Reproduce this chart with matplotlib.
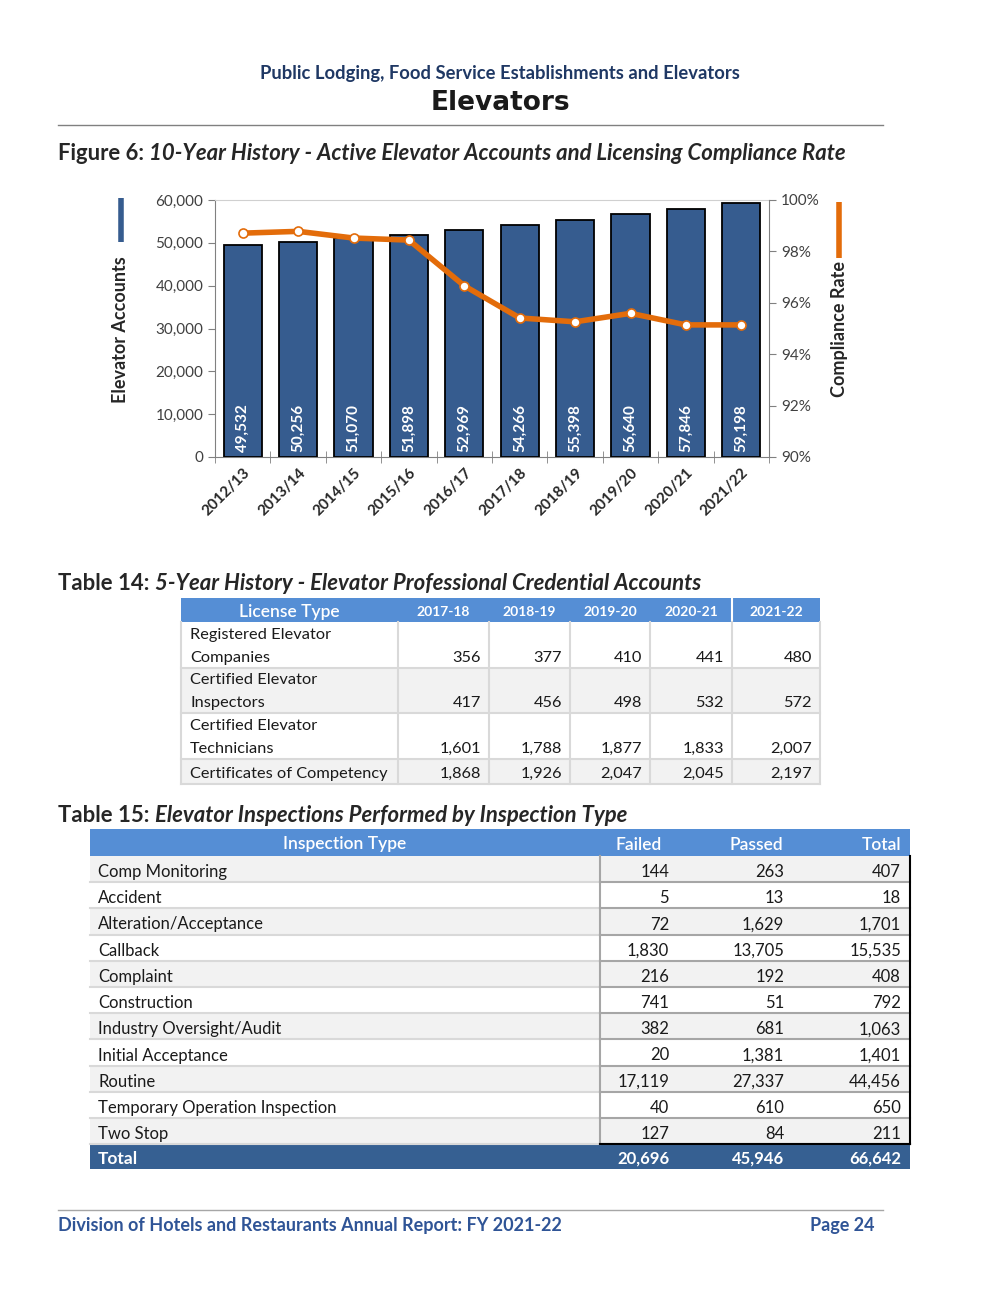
import numpy as np
import matplotlib
matplotlib.use('Agg')
import matplotlib.pyplot as plt
from matplotlib.patches import Rectangle
from matplotlib.ticker import FuncFormatter, FixedLocator

# ---- data ----
years = ['2012/13', '2013/14', '2014/15', '2015/16', '2016/17',
         '2017/18', '2018/19', '2019/20', '2020/21', '2021/22']
accounts = [49532, 50256, 51070, 51898, 52969, 54266, 55398, 56640, 57846, 59198]
compliance = [98.71, 98.78, 98.52, 98.44, 96.66, 95.41, 95.26, 95.59, 95.14, 95.14]

t14_years = ['2017-18', '2018-19', '2019-20', '2020-21', '2021-22']
t14_types = ['Registered Elevator\nCompanies', 'Certified Elevator\nInspectors',
             'Certified Elevator\nTechnicians', 'Certificates of Competency']
t14_values = [[356, 377, 410, 441, 480],
              [417, 456, 498, 532, 572],
              [1601, 1788, 1877, 1833, 2007],
              [1868, 1926, 2047, 2045, 2197]]

t15_types = ['Comp Monitoring', 'Accident', 'Alteration/Acceptance', 'Callback',
             'Complaint', 'Construction', 'Industry Oversight/Audit',
             'Initial Acceptance', 'Routine', 'Temporary Operation Inspection', 'Two Stop']
t15_failed = [144, 5, 72, 1830, 216, 741, 382, 20, 17119, 40, 127]
t15_passed = [263, 13, 1629, 13705, 192, 51, 681, 1381, 27337, 610, 84]
t15_total = [407, 18, 1701, 15535, 408, 792, 1063, 1401, 44456, 650, 211]

# ---- colours / fonts ----
NAVY = '#1F3864'
BAR = '#365C8F'
ORANGE = '#E36C0A'
HEAD = '#558ED5'
TOTAL = '#366092'
GRAYROW = '#F2F2F2'
LINE = '#D9D9D9'
FONT = ['Lato', 'DejaVu Sans']
plt.rcParams['font.family'] = FONT

W, H = 1000, 1294
fig = plt.figure(figsize=(W / 100, H / 100), dpi=100)
pg = fig.add_axes([0, 0, 1, 1])
pg.set_xlim(0, W)
pg.set_ylim(H, 0)
pg.axis('off')
renderer = fig.canvas.get_renderer()


def caption(x, y, a, b, size=15.9):
    # bold lead-in followed by bold italic title
    t = pg.text(x, y, a, fontsize=size, fontweight='bold', color='#262626', va='center')
    bb = t.get_window_extent(renderer)
    pg.text(x + bb.width, y, b, fontsize=size, fontweight='bold', style='italic',
            color='#262626', va='center')


# ---- page header ----
pg.text(500, 73, 'Public Lodging, Food Service Establishments and Elevators',
        fontsize=13.2, fontweight='bold', color=NAVY, ha='center', va='center')
pg.text(500, 103, 'Elevators', fontsize=19, fontweight='bold', color='#1a1a1a',
        ha='center', va='center', family=['DejaVu Sans'])
pg.plot([58, 883], [125, 125], color='#808080', lw=1)
caption(58, 153, 'Figure 6: ', '10-Year History - Active Elevator Accounts and Licensing Compliance Rate')

# ---- chart ----
ax = fig.add_axes([215 / W, 1 - 457 / H, 554 / W, 257 / H])
x = np.arange(len(years))
ax.bar(x, accounts, width=0.69, color=BAR, edgecolor='black', linewidth=1.3, zorder=3)
for xi, v in zip(x, accounts):
    ax.text(xi, 1100, f'{v:,}', rotation=90, ha='center', va='bottom', color='white',
            fontsize=11, fontweight='bold', zorder=4)
ax.set_xlim(-0.5, len(years) - 0.5)
ax.set_ylim(0, 60000)
ax.set_yticks(np.arange(0, 60001, 10000))
ax.yaxis.set_major_formatter(FuncFormatter(lambda v, p: f'{int(v):,}'))
ax.set_xticks(x)
ax.set_xticklabels(years, rotation=45, ha='right', rotation_mode='anchor',
                   fontsize=11, fontweight='bold', color='#262626')
ax.xaxis.set_minor_locator(FixedLocator(np.arange(-0.5, len(years), 1.0)))
ax.tick_params(axis='x', which='major', length=0, pad=6)
ax.tick_params(axis='x', which='minor', length=8, direction='inout', color='#808080')
ax.tick_params(axis='y', length=5, color='#808080', labelsize=11, labelcolor='#404040')
for s in ['left', 'bottom']:
    ax.spines[s].set_color('#808080')
ax.spines['right'].set_visible(False)
ax.spines['top'].set_color('#D0D0D0')

ax2 = ax.twinx()
ax2.plot(x, compliance, color=ORANGE, lw=4, marker='o', markersize=6.5,
         markerfacecolor='white', markeredgecolor=ORANGE, markeredgewidth=1.2, zorder=5)
ax2.set_ylim(90, 100)
ax2.set_yticks(np.arange(90, 100.1, 2))
ax2.yaxis.set_major_formatter(FuncFormatter(lambda v, p: f'{v:.0f}%'))
ax2.tick_params(axis='y', length=5, color='#808080', labelsize=11, labelcolor='#404040')
ax2.spines['right'].set_color('#808080')
for s in ['left', 'top', 'bottom']:
    ax2.spines[s].set_visible(False)

# axis titles with legend keys
pg.plot([121, 121], [198, 242], color=BAR, lw=4, solid_capstyle='butt')
pg.text(120, 330, 'Elevator Accounts', rotation=90, ha='center', va='center',
        fontsize=13, fontweight='bold', color='#262626')
pg.plot([839, 839], [202, 258], color=ORANGE, lw=4, solid_capstyle='butt')
pg.text(839, 329, 'Compliance Rate', rotation=90, ha='center', va='center',
        fontsize=13, fontweight='bold', color='#262626')

# ---- table 14 ----
caption(58, 584, 'Table 14: ', '5-Year History - Elevator Professional Credential Accounts')
cols14 = [181, 398, 489, 570, 650, 732, 820]
rows14 = [598, 622, 668, 713, 759, 784]
pg.add_patch(Rectangle((cols14[0], rows14[0]), cols14[-1] - cols14[0], rows14[1] - rows14[0],
                       facecolor=HEAD, edgecolor='none'))
pg.text((cols14[0] + cols14[1]) / 2, (rows14[0] + rows14[1]) / 2 + 2, 'License Type',
        ha='center', va='center', color='white', fontsize=12.5, fontweight='semibold')
for j, yr in enumerate(t14_years):
    pg.text((cols14[j + 1] + cols14[j + 2]) / 2, (rows14[0] + rows14[1]) / 2 + 2, yr,
            ha='center', va='center', color='white', fontsize=10, fontweight='bold')
pg.plot([cols14[5], cols14[5]], [rows14[0], rows14[1]], color='white', lw=1.5)
for i, (name, vals) in enumerate(zip(t14_types, t14_values)):
    y0, y1 = rows14[i + 1], rows14[i + 2]
    pg.add_patch(Rectangle((cols14[0], y0), cols14[-1] - cols14[0], y1 - y0,
                           facecolor=GRAYROW if i % 2 else 'white', edgecolor='none'))
    ytxt = y1 - 10
    lines = name.split('\n')
    for k, ln in enumerate(lines):
        pg.text(cols14[0] + 9, ytxt - (len(lines) - 1 - k) * 22.5, ln, ha='left',
                va='center', fontsize=11.8, color='#1a1a1a')
    for j, v in enumerate(vals):
        pg.text(cols14[j + 2] - 8, ytxt, f'{v:,}', ha='right', va='center',
                fontsize=11.8, color='#1a1a1a')
    pg.plot([cols14[0], cols14[-1]], [y1, y1], color=LINE, lw=1.5)
for cx in cols14:
    pg.plot([cx, cx], [rows14[1], rows14[-1]], color=LINE, lw=1.5)

# ---- table 15 ----
caption(58, 816, 'Table 15: ', 'Elevator Inspections Performed by Inspection Type')
left15, split15, right15 = 90, 600, 910
num_right = [669, 784, 901]
top15, head_h, row_h = 829, 27, 26.2
pg.add_patch(Rectangle((left15, top15), right15 - left15, head_h, facecolor=HEAD, edgecolor='none'))
yh = top15 + head_h / 2 + 2
pg.text((left15 + split15) / 2, yh, 'Inspection Type', ha='center', va='center',
        color='white', fontsize=12.5, fontweight='semibold')
for xr, lab in zip([662, 783, 901], ['Failed', 'Passed', 'Total']):
    pg.text(xr, yh, lab, ha='right', va='center', color='white', fontsize=12.5,
            fontweight='semibold')
ystart = top15 + head_h
for i, name in enumerate(t15_types):
    y0 = ystart + i * row_h
    pg.add_patch(Rectangle((left15, y0), right15 - left15, row_h,
                           facecolor='white' if i % 2 else GRAYROW, edgecolor='none'))
    yc = y0 + row_h / 2 + 3
    pg.text(98, yc, name, ha='left', va='center', fontsize=12, color='#1a1a1a')
    for xr, v in zip(num_right, [t15_failed[i], t15_passed[i], t15_total[i]]):
        pg.text(xr, yc, f'{v:,}', ha='right', va='center', fontsize=12, color='#1a1a1a')
    pg.plot([left15, split15], [y0 + row_h, y0 + row_h], color=LINE, lw=1.5)
    pg.plot([split15, right15], [y0 + row_h, y0 + row_h], color='#A6A6A6', lw=1.5)
yend = ystart + len(t15_types) * row_h
pg.plot([split15, split15], [ystart, yend], color='#A6A6A6', lw=1.5)
pg.plot([right15, right15], [ystart, yend], color='black', lw=1.5)
pg.plot([split15, right15], [yend, yend], color='black', lw=1.5)
pg.add_patch(Rectangle((left15, yend), right15 - left15, 25, facecolor=TOTAL, edgecolor='none'))
yt = yend + 14.5
pg.text(98, yt, 'Total', ha='left', va='center', color='white', fontsize=12.5, fontweight='bold')
for xr, vals in zip(num_right, [t15_failed, t15_passed, t15_total]):
    pg.text(xr, yt, f'{sum(vals):,}', ha='right', va='center', color='white',
            fontsize=12, fontweight='bold')

# ---- footer ----
pg.plot([58, 883], [1210, 1210], color='#A6A6A6', lw=1)
pg.text(58, 1225, 'Division of Hotels and Restaurants Annual Report: FY 2021-22',
        ha='left', va='center', fontsize=13, fontweight='bold', color='#2F5496')
pg.text(875, 1225, 'Page 24', ha='right', va='center', fontsize=13,
        fontweight='bold', color='#2F5496')

fig.savefig('out.png', dpi=100, facecolor='white')
